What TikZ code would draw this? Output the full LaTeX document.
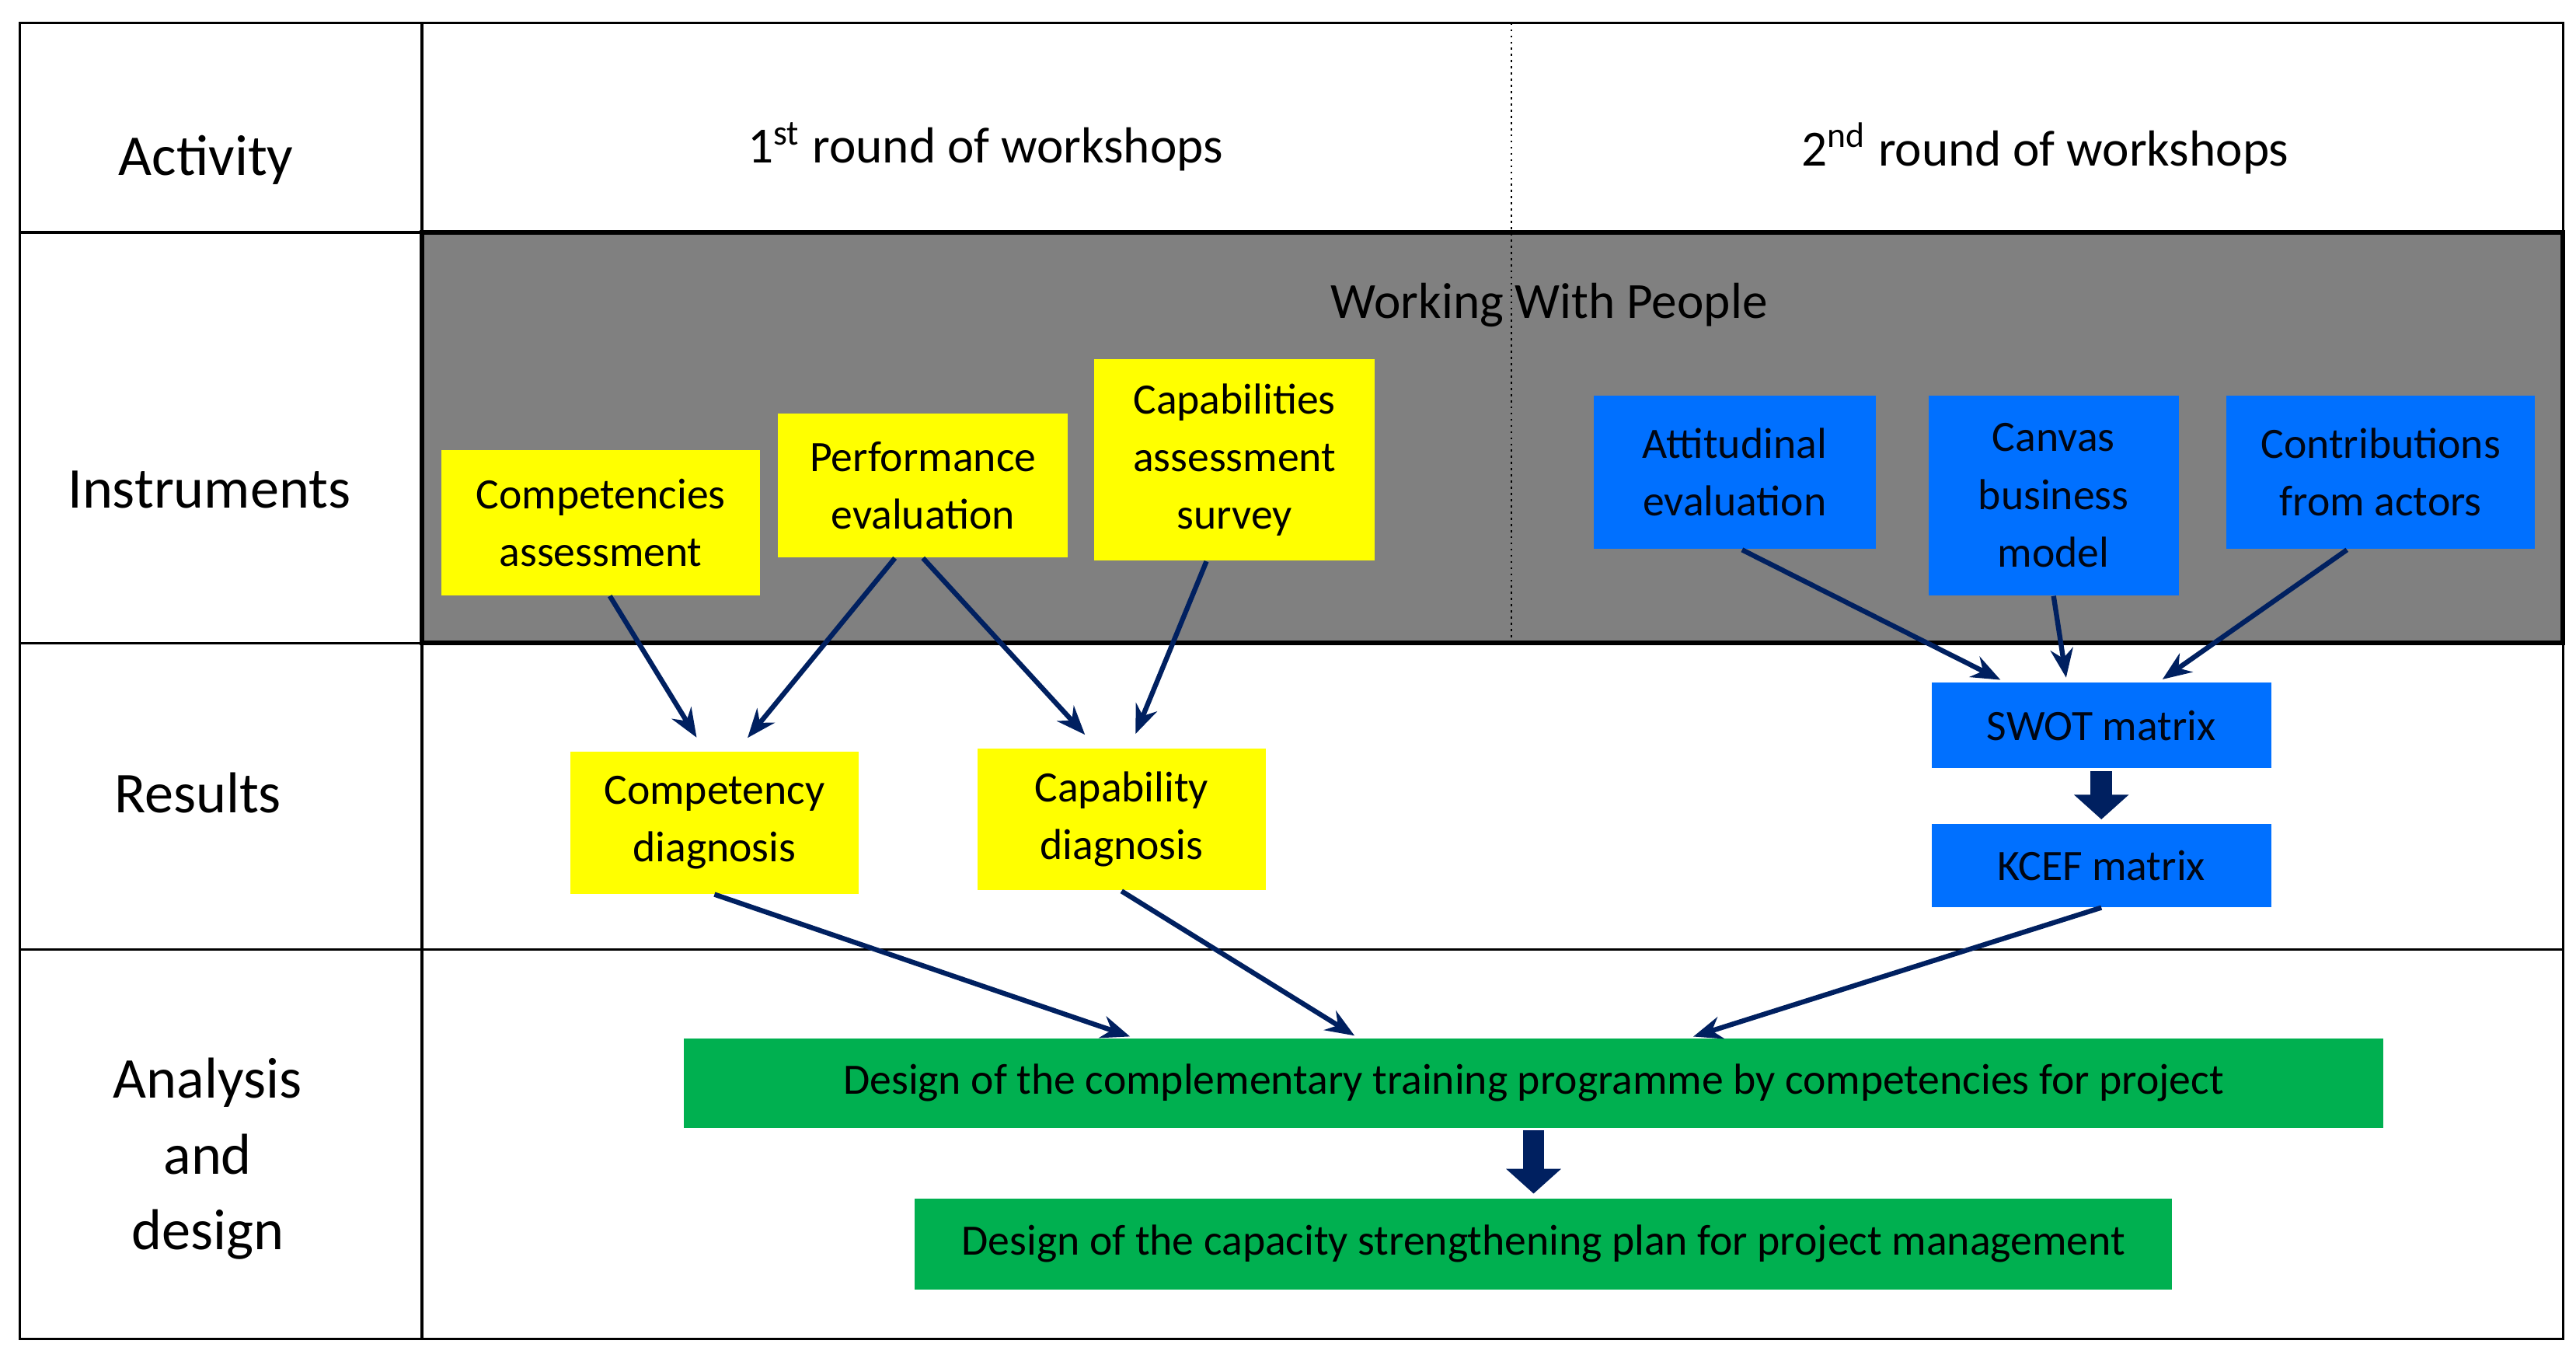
\documentclass[tikz,border=0pt]{standalone}
\usepackage{fontspec}
\setmainfont{Carlito}
\usetikzlibrary{arrows.meta}

\definecolor{boxyellow}{RGB}{255,255,0}
\definecolor{boxblue}{RGB}{0,112,255}
\definecolor{boxgreen}{RGB}{0,176,80}
\definecolor{arrownavy}{RGB}{0,32,96}
\definecolor{wwpgray}{RGB}{128,128,128}

\tikzset{
	rowlabel/.style={align=center,font=\fontsize{14}{18.4}\selectfont},
	headlabel/.style={font=\fontsize{12.3}{14}\selectfont},
	yellowbox/.style={fill=boxyellow,align=center,inner sep=0pt,font=\fontsize{10.5}{14}\selectfont},
	bluebox/.style={fill=boxblue,align=center,inner sep=0pt,text=black!80!arrownavy,font=\fontsize{10.5}{14}\selectfont},
	greenbox/.style={fill=boxgreen,align=center,inner sep=0pt,font=\fontsize{10.5}{14}\selectfont},
	thinarrow/.style={-{Stealth[length=7pt,width=5.5pt]},draw=arrownavy,line width=1.2pt,shorten >=1pt},
	blockarrow/.style={-{Triangle[length=6pt,width=13pt]},draw=arrownavy,line width=5.2pt,shorten <=0.5pt,shorten >=1pt}
}

\begin{document}
\begin{tikzpicture}[x=0.4pt,y=-0.4pt]
		\useasboundingbox (0,0) rectangle (1563,823.7);

		% Table frame
		\fill[wwpgray] (256,141) rectangle (1555,390);
		\draw[line width=0.6pt] (12,14) rectangle (1555,812);
		\draw[line width=0.6pt] (256,14) -- (256,812);
		\draw[line width=0.6pt] (12,141) -- (256,141);
		\draw[line width=0.6pt] (12,390) -- (256,390);
		\draw[line width=0.6pt] (12,576) -- (1555,576);
		\draw[line width=1.1pt] (256,141) rectangle (1555,390);
		\draw[line width=0.5pt,densely dotted] (917,14) -- (917,390);

		% Row and column headings
		\node[rowlabel] (activity) at (125,97) {Activity};
		\node[headlabel] (round1) at (598,89) {1\textsuperscript{st} round of workshops};
		\node[headlabel] (round2) at (1241,90) {2\textsuperscript{nd} round of workshops};
		\node[rowlabel] (instruments) at (127,297) {Instruments};
		\node[headlabel] (wwp) at (940,185) {Working With People};
		\node[rowlabel] (results) at (120,481) {Results};
		\node[rowlabel] (analysis) at (126,703) {Analysis\\and\\design};

		% Instruments
		\node[yellowbox,minimum width=77.2pt,minimum height=35.2pt] (compass) at (364.5,317) {Competencies\\assessment};
		\node[yellowbox,minimum width=70.4pt,minimum height=34.8pt] (perfeval) at (560,294.5) {Performance\\evaluation};
		\node[yellowbox,minimum width=68pt,minimum height=48.8pt] (capsurvey) at (749,279) {Capabilities\\assessment\\survey};
		\node[bluebox,minimum width=68.4pt,minimum height=37.2pt] (attitude) at (1052.5,286.5) {Attitudinal\\evaluation};
		\node[bluebox,minimum width=60.8pt,minimum height=48.4pt] (canvas) at (1246,300.5) {Canvas\\business\\model};
		\node[bluebox,minimum width=74.8pt,minimum height=37.2pt] (actors) at (1444.5,286.5) {Contributions\\from actors};

		% Results
		\node[yellowbox,minimum width=70pt,minimum height=34.4pt] (compdiag) at (433.5,499) {Competency\\diagnosis};
		\node[yellowbox,minimum width=70pt,minimum height=34.4pt] (capdiag) at (680.5,497) {Capability\\diagnosis};
		\node[bluebox,minimum width=82.4pt,minimum height=20.8pt] (swot) at (1275,440) {SWOT matrix};
		\node[bluebox,minimum width=82.4pt,minimum height=20pt] (kcef) at (1275,525) {KCEF matrix};

		% Analysis and design
		\node[greenbox,minimum width=412.4pt,minimum height=21.6pt] (training) at (930.5,657) {Design of the complementary training programme by competencies for project};
		\node[greenbox,minimum width=305.2pt,minimum height=22pt] (plan) at (936.5,754.5) {Design of the capacity strengthening plan for project management};

		% Connectors
		\draw[thinarrow] ([xshift=2.2pt]compass.south) -- ([xshift=-3.8pt,yshift=2.4pt]compdiag.north);
		\draw[thinarrow] ([xshift=-6.8pt]perfeval.south) -- ([xshift=7.4pt,yshift=2.4pt]compdiag.north);
		\draw[thinarrow] (perfeval.south) -- ([xshift=-8.2pt,yshift=2.4pt]capdiag.north);
		\draw[thinarrow] ([xshift=-6.8pt]capsurvey.south) -- ([xshift=3pt,yshift=2.4pt]capdiag.north);
		\draw[thinarrow] ([xshift=1.8pt]attitude.south) -- ([xshift=-23.6pt]swot.north);
		\draw[thinarrow] (canvas.south) -- ([xshift=-8.4pt]swot.north);
		\draw[thinarrow] ([xshift=-8.2pt]actors.south) -- ([xshift=14pt]swot.north);
		\draw[thinarrow] (compdiag.south) -- ([xshift=-97pt]training.north);
		\draw[thinarrow] (capdiag.south) -- ([xshift=-42.6pt]training.north);
		\draw[thinarrow] (kcef.south) -- ([xshift=37.8pt]training.north);
		\draw[blockarrow] (swot.south) -- (kcef.north);
		\draw[blockarrow] (training.south) -- (training.south |- plan.north);

\end{tikzpicture}
\end{document}
